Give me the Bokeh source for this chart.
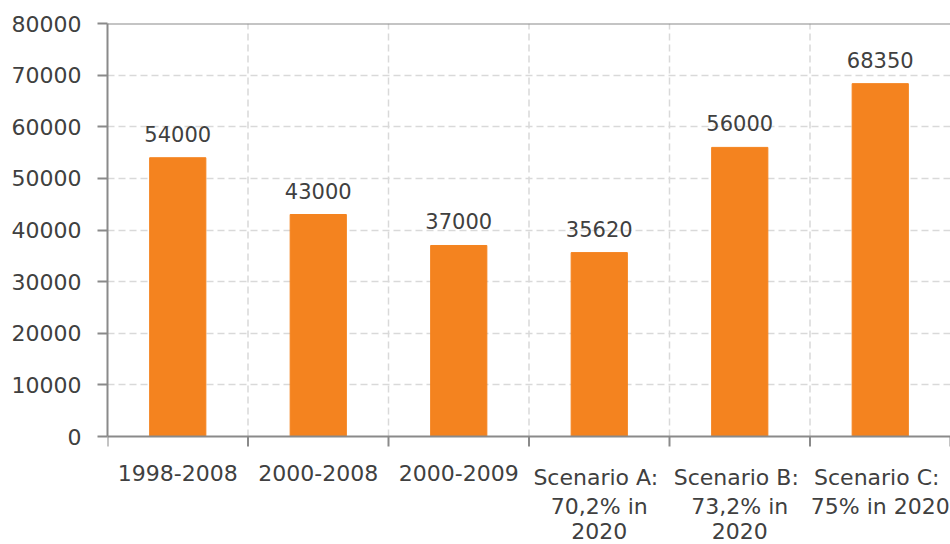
import math
from bokeh.plotting import figure
from bokeh.models import ColumnDataSource, FixedTicker, Range1d, Span
from bokeh.core.properties import value
from bokeh.embed import file_html
from bokeh.resources import INLINE

# Periods / scenarios and their values
categories = [
    "1998-2008",
    "2000-2008",
    "2000-2009",
    "Scenario  A:\n70,2% in\n2020",
    "Scenario  B:\n73,2% in\n2020",
    "Scenario  C:\n75% in 2020",
]
values = [54000, 43000, 37000, 35620, 56000, 68350]
y_ticks = [0, 10000, 20000, 30000, 40000, 50000, 60000, 70000, 80000]
y_max = 80000

FONT = "DejaVu Sans"
TEXT = "#404040"
AXIS = "#8a8a8a"
GRID = "#d9d9d9"
BAR = "#F4831F"

W, H = 950, 544
TOP, LEFT = 23, 107
LABEL_AREA = 108          # space under the zero line for category labels
plot_h = H - TOP - LABEL_AREA
y_start = -LABEL_AREA / plot_h * y_max   # extend the range below zero for the labels

n = len(categories)
centers = [i + 0.5 for i in range(n)]
bounds = list(range(n + 1))

src = ColumnDataSource(dict(
    x=centers,
    top=values,
    label=[str(v) for v in values],
))

# one row per line of each category label
LINE_STEP = 29
FIRST_LINE = 28
lx, lt, loff = [], [], []
for c, cat in zip(centers, categories):
    for i, line in enumerate(cat.split("\n")):
        lx.append(c)
        lt.append(line)
        loff.append(FIRST_LINE + i * LINE_STEP)
cat_src = ColumnDataSource(dict(x=lx, y=[0] * len(lx), text=lt, off=loff))

p = figure(
    width=W, height=H,
    x_range=Range1d(0, n), y_range=Range1d(y_start, y_max),
    output_backend="svg", toolbar_location=None,
    x_axis_location=None,
    min_border_left=LEFT, min_border_top=TOP,
    min_border_bottom=0, min_border_right=0,
)
p.outline_line_color = None
p.background_fill_color = "white"
p.border_fill_color = "white"

# dashed grid
p.ygrid.ticker = FixedTicker(ticks=y_ticks[1:-1])
p.ygrid.grid_line_color = GRID
p.ygrid.grid_line_dash = "7 4"
p.ygrid.grid_line_width = 1.5
p.xgrid.visible = False
inner = bounds[1:-1]
p.segment(x0=inner, y0=[0] * len(inner), x1=inner, y1=[y_max] * len(inner),
          line_color=GRID, line_dash="7 4", line_width=1.5)

p.vbar(x="x", top="top", width=0.4, source=src, color=BAR)

# value labels above bars
p.text(
    x="x", y="top", text="label", source=src,
    text_align="center", text_baseline="bottom", y_offset=-16,
    text_font=value(FONT), text_font_size="21px", text_color=TEXT,
)

# x axis line, boundary ticks and category labels
p.add_layout(Span(location=0, dimension="width", line_color=AXIS, line_width=2))
p.ray(x=bounds, y=[0] * len(bounds), length=10, length_units="screen",
      angle=-math.pi / 2, line_color=AXIS, line_width=2)
p.text(
    x="x", y="y", text="text", y_offset="off", source=cat_src,
    text_align="center", text_baseline="top",
    text_font=value(FONT), text_font_size="22px", text_color=TEXT,
)

# y axis
ya = p.yaxis[0]
ya.bounds = (0, y_max)
ya.ticker = FixedTicker(ticks=y_ticks)
ya.major_tick_out = 10
ya.major_tick_in = 0
ya.minor_tick_line_color = None
ya.major_tick_line_color = AXIS
ya.major_tick_line_width = 2
ya.axis_line_color = AXIS
ya.axis_line_width = 2
ya.major_label_text_font = FONT
ya.major_label_text_font_size = "22px"
ya.major_label_text_color = TEXT
ya.major_label_standoff = 16

# solid top border line
p.add_layout(Span(location=y_max, dimension="width", line_color=AXIS, line_width=2))

open("out.html", "w").write(file_html(p, INLINE))
